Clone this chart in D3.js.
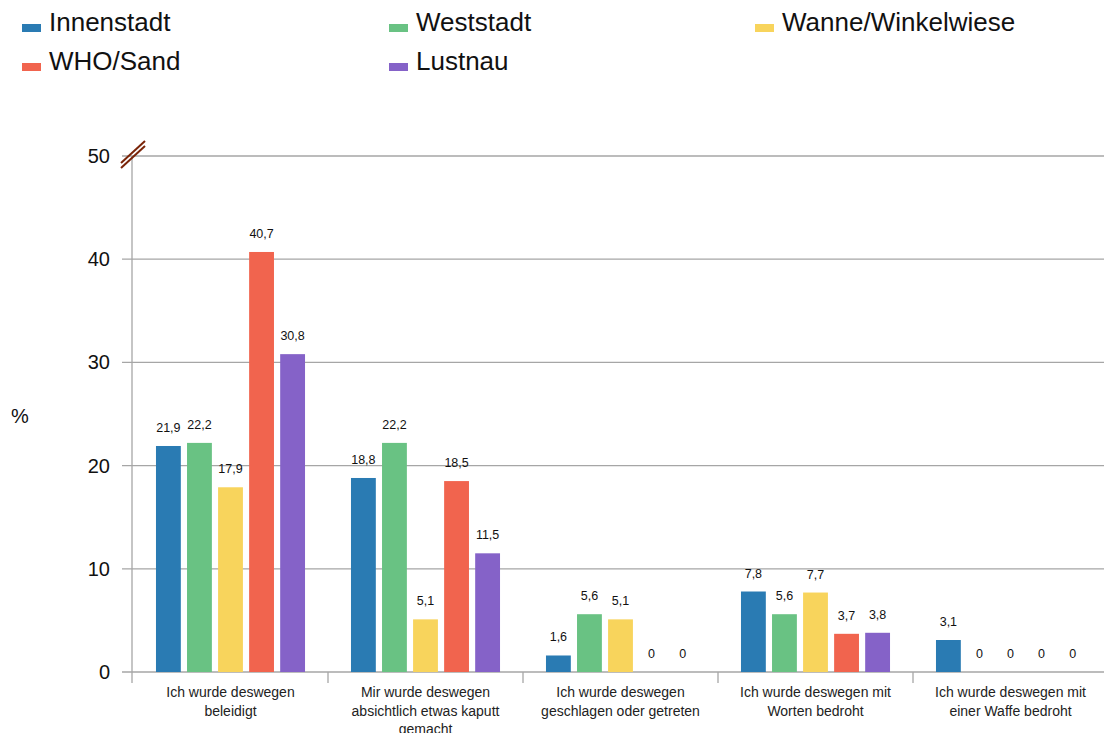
<!DOCTYPE html>
<html><head><meta charset="utf-8">
<script src="https://cdn.jsdelivr.net/npm/d3@7"></script>
<style>body{margin:0;background:#fff}svg{display:block;font-family:"Liberation Sans",Arial,sans-serif}</style>
</head><body><svg id="c" width="1104" height="733"></svg>
<script>
const categories = [
  ["Ich wurde deswegen","beleidigt"],
  ["Mir wurde deswegen","absichtlich etwas kaputt","gemacht"],
  ["Ich wurde deswegen","geschlagen oder getreten"],
  ["Ich wurde deswegen mit","Worten bedroht"],
  ["Ich wurde deswegen mit","einer Waffe bedroht"]
];
const seriesNames = ["Innenstadt","Weststadt","Wanne/Winkelwiese","WHO/Sand","Lustnau"];
const innenstadt = [21.9, 18.8, 1.6, 7.8, 3.1];
const weststadt = [22.2, 22.2, 5.6, 5.6, 0];
const wanne = [17.9, 5.1, 5.1, 7.7, 0];
const whoSand = [40.7, 18.5, 0, 3.7, 0];
const lustnau = [30.8, 11.5, 0, 3.8, 0];
const yTicks = [0, 10, 20, 30, 40, 50];
const colors = ["#2a7bb3","#69c283","#f8d45c","#f1644e","#8562c8"];

const series = [innenstadt, weststadt, wanne, whoSand, lustnau];
const svg = d3.select("#c");
const x0 = d3.scaleBand().domain(d3.range(categories.length)).range([133, 1108]);
const x1 = d3.scaleBand().domain(d3.range(series.length)).range([0, x0.bandwidth()]).paddingInner(0.2).paddingOuter(0.74);
const y = d3.scaleLinear().domain([0, 50]).range([672, 156]);

// gridlines
svg.append("g").selectAll("line").data(yTicks).join("line")
  .attr("x1", 122).attr("x2", 1104).attr("y1", d => y(d)).attr("y2", d => y(d))
  .attr("stroke", "#a6a6a6").attr("stroke-width", 1.3);
// y axis line
svg.append("line").attr("x1", 132).attr("x2", 132).attr("y1", y(50)).attr("y2", 683)
  .attr("stroke", "#a6a6a6").attr("stroke-width", 1.3);
// category ticks
svg.append("g").selectAll("line").data(d3.range(categories.length + 1).slice(1)).join("line")
  .attr("x1", d => x0.range()[0] + d * x0.step()).attr("x2", d => x0.range()[0] + d * x0.step())
  .attr("y1", 672).attr("y2", 683).attr("stroke", "#a6a6a6").attr("stroke-width", 1.3);

// y tick labels
svg.append("g").selectAll("text").data(yTicks).join("text")
  .attr("x", 110).attr("y", d => y(d)).attr("dy", "0.35em").attr("text-anchor", "end")
  .attr("font-size", 20).attr("fill", "#111").text(d => d);
svg.append("text").attr("x", 20).attr("y", 416).attr("dy", "0.35em").attr("text-anchor", "middle")
  .attr("font-size", 20).attr("fill", "#111").text("%");

// axis break marks
[0, 5].forEach(o => {
  svg.append("line").attr("x1", 121).attr("y1", 163 + o).attr("x2", 145).attr("y2", 141 + o)
    .attr("stroke", "#7a2408").attr("stroke-width", 2);
});

// bars
const groups = svg.append("g").selectAll("g").data(categories).join("g")
  .attr("transform", (d, i) => `translate(${x0(i)},0)`);
groups.each(function(c, ci) {
  const g = d3.select(this);
  series.forEach((s, si) => {
    const v = s[ci];
    if (v > 0) {
      g.append("rect").attr("x", x1(si)).attr("width", x1.bandwidth())
        .attr("y", y(v)).attr("height", y(0) - y(v)).attr("fill", colors[si]);
    }
    g.append("text").attr("x", x1(si) + x1.bandwidth() / 2).attr("y", y(v) - 14)
      .attr("text-anchor", "middle").attr("font-size", 12.5).attr("fill", "#111")
      .text(d3.format(".1~f")(v).replace(".", ","));
  });
  const t = g.append("text").attr("text-anchor", "middle").attr("font-size", 14).attr("fill", "#222");
  c.forEach((line, li) => {
    t.append("tspan").attr("x", x0.bandwidth() / 2).attr("y", 697 + li * 18.5).text(line);
  });
});

// legend
const legendPos = [[22, 22], [389, 22], [755, 22], [22, 61], [389, 61]];
seriesNames.forEach((n, i) => {
  const [lx, ly] = legendPos[i];
  svg.append("rect").attr("x", lx).attr("y", ly + 2).attr("width", 19).attr("height", 8).attr("fill", colors[i]);
  svg.append("text").attr("x", lx + 27).attr("y", ly).attr("dy", "0.35em")
    .attr("font-size", 26).attr("fill", "#111").text(n);
});
</script></body></html>
